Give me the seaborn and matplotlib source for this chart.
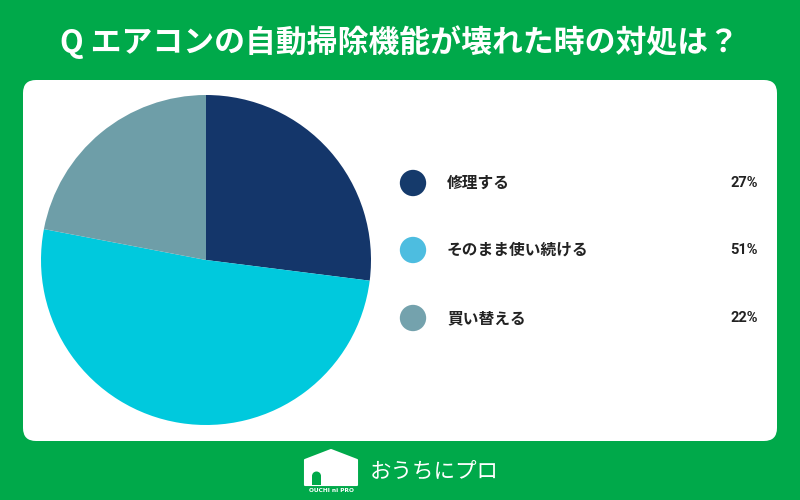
import matplotlib
matplotlib.use("Agg")
import matplotlib.pyplot as plt
import seaborn as sns
import pandas as pd
from matplotlib.patches import FancyBboxPatch, Polygon, Rectangle, Wedge

sns.set_theme(style="white")
plt.rcParams['font.family'] = ['Noto Sans CJK JP', 'DejaVu Sans']

title = "Q エアコンの自動掃除機能が壊れた時の対処は？"
categories = ["修理する", "そのまま使い続ける", "買い替える"]
values = [27, 51, 22]
pie_colors = ["#14366A", "#00C9DD", "#6E9EA8"]
legend_colors = ["#153A6B", "#4DBDE0", "#74A2AD"]
green = "#00A94A"

fig = plt.figure(figsize=(8, 5), dpi=100, facecolor=green)

# background canvas in pixel coordinates
bg = fig.add_axes([0, 0, 1, 1])
bg.set_xlim(0, 800)
bg.set_ylim(500, 0)
bg.axis("off")
bg.add_patch(FancyBboxPatch((23 + 13, 80 + 13), 754 - 26, 361 - 26,
                            boxstyle="round,pad=13", fc="white", ec="none"))

bg.text(400, 42, title, color="white", fontsize=22.2, fontweight="bold",
        ha="center", va="center")

# logo
house = Polygon([(305, 460), (331, 450), (357, 460), (357, 485), (305, 485)],
                closed=True, fc="white", ec="white", lw=1.5, joinstyle="round")
bg.add_patch(house)
bg.add_patch(Rectangle((312, 476), 9, 9, fc=green, ec="none"))
bg.add_patch(Wedge((316.5, 476), 4.5, 180, 360, fc=green, ec="none"))
bg.text(331, 490, "OUCHI ni PRO", color="white", fontsize=4.2, fontweight="bold",
        ha="center", va="center", family="DejaVu Sans")
bg.text(370, 473, "おうちにプロ", color="white", fontsize=15.5,
        ha="left", va="center")

# pie
ax = fig.add_axes([41 / 800, (500 - 425) / 500, 330 / 800, 330 / 500])
ax.pie(values, colors=pie_colors, startangle=90, counterclock=False,
       wedgeprops=dict(linewidth=0))
ax.set_xlim(-1, 1)
ax.set_ylim(-1, 1)
ax.set_aspect("equal")

# legend drawn with seaborn scatter
leg = fig.add_axes([0, 0, 1, 1], facecolor="none")
ys = [183, 250, 318]
df = pd.DataFrame({"x": [413] * 3, "y": ys, "cat": categories})
sns.scatterplot(data=df, x="x", y="y", hue="cat", palette=legend_colors,
                s=360, linewidth=0, legend=False, ax=leg)
leg.set_xlim(0, 800)
leg.set_ylim(500, 0)
leg.axis("off")
for y, c, v in zip(ys, categories, values):
    leg.text(447, y, c, fontsize=11.3, fontweight="bold", color="#222222",
             ha="left", va="center")
    leg.text(758, y, f"{v}%", fontsize=10.5, fontweight="bold", color="#222222",
             ha="right", va="center", family=["Roboto", "DejaVu Sans"])

fig.savefig("out.png", dpi=100, facecolor=green)
